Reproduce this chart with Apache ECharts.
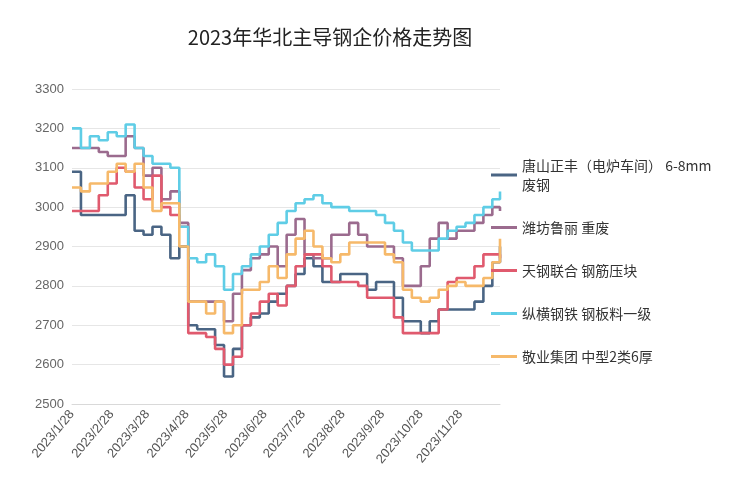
<!DOCTYPE html>
<html><head><meta charset="utf-8">
<script src="https://cdn.jsdelivr.net/npm/echarts@6/dist/echarts.min.js"></script>
<style>html,body{margin:0;padding:0;background:#fff}#c{width:737px;height:501px}</style>
</head><body><div id="c"></div>
<script>
const seriesNames=['唐山正丰（电炉车间） 6-8mm废钢','潍坊鲁丽 重废','天钢联合 钢筋压块','纵横钢铁 钢板料一级','敬业集团 中型2类6厚'];
const tangshan=[3090,2980,2980,2980,2980,2980,3030,2940,2930,2950,2930,2870,2900,2700,2690,2690,2650,2570,2640,2700,2720,2730,2760,2780,2800,2830,2870,2850,2810,2810,2830,2830,2830,2790,2810,2810,2770,2710,2710,2680,2710,2740,2740,2740,2740,2760,2800,2860,2900];
const weifang=[3150,3150,3150,3140,3130,3130,3180,3150,3080,3100,3020,3040,2960,2760,2760,2760,2760,2710,2780,2840,2870,2880,2900,2850,2930,2970,2880,2870,2870,2930,2930,2960,2930,2900,2900,2900,2870,2800,2800,2850,2920,2960,2920,2940,2940,2960,2980,3000,2990];
const tiangang=[2990,2990,2990,3030,3060,3100,3090,3050,3020,3080,3000,2980,2950,2680,2680,2670,2640,2600,2620,2700,2730,2760,2780,2750,2800,2850,2880,2880,2850,2810,2810,2810,2800,2770,2770,2770,2720,2680,2680,2680,2680,2740,2810,2820,2820,2850,2880,2880,2870];
const zongheng=[3200,3150,3180,3170,3190,3180,3210,3150,3130,3110,3110,3100,2950,2870,2860,2880,2850,2790,2830,2850,2880,2900,2930,2960,2990,3010,3020,3030,3010,3000,3000,2990,2990,2990,2980,2960,2940,2910,2890,2890,2890,2920,2940,2950,2960,2980,3000,3020,3040];
const jingye=[3050,3040,3060,3060,3090,3110,3090,3110,3050,2990,3010,3010,2900,2760,2760,2730,2760,2680,2700,2790,2790,2810,2850,2820,2880,2920,2940,2900,2870,2860,2880,2910,2910,2910,2910,2880,2860,2790,2770,2760,2770,2790,2800,2810,2800,2800,2820,2860,2920];
const yTicks=[2500,3300,100];
const days=[];
const start=new Date(2023,0,28), end=new Date(2023,11,29);
for(let d=new Date(start);d<=end;d.setDate(d.getDate()+1)) days.push(d.getFullYear()+'/'+(d.getMonth()+1)+'/'+d.getDate());
const sampleDays=tangshan.map((_,k)=>days[Math.min(k*7,days.length-1)]);
const colors=['#4a6584','#9b6b8e','#e05a6e','#5fcde6','#f6b96a'];
const vals=[tangshan,weifang,tiangang,zongheng,jingye];
const chart=echarts.init(document.getElementById('c'));
chart.setOption({
 animation:false,
 color:colors,
 title:{text:'2023年华北主导钢企价格走势图',left:325,top:22,textAlign:'center',textStyle:{fontSize:20,fontWeight:'normal',color:'#222',fontFamily:'Noto Sans CJK SC'}},
 grid:{left:72,right:237,top:89,bottom:97},
 legend:{orient:'vertical',left:486,top:151,itemGap:24,itemWidth:26,itemHeight:3,icon:'rect',
  textStyle:{fontSize:14,color:'#333',width:190,overflow:'break',lineHeight:19,fontFamily:'Noto Sans CJK SC'},data:seriesNames},
 xAxis:{type:'category',data:days,boundaryGap:false,
  axisLine:{lineStyle:{color:'#d9d9d9'}},axisTick:{show:false},
  axisLabel:{rotate:50,color:'#555',fontSize:13,interval:(i,v)=>v.endsWith('/28')&&v!=='2023/12/28',margin:8}},
 yAxis:{type:'value',min:yTicks[0],max:yTicks[1],interval:yTicks[2],
  axisLine:{show:false},axisTick:{show:false},
  axisLabel:{color:'#666',fontSize:13,formatter:v=>String(v)},splitLine:{lineStyle:{color:'#e6e6e6'}}},
 series:seriesNames.map((n,i)=>({name:n,type:'line',step:'end',showSymbol:false,
  lineStyle:{width:2.6},data:vals[i].map((v,k)=>[sampleDays[k],v])}))
});
</script></body></html>
